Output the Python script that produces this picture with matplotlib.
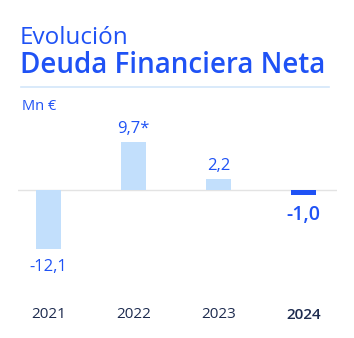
import matplotlib

matplotlib.use("Agg")
import matplotlib.pyplot as plt
from matplotlib.lines import Line2D

years = ["2021", "2022", "2023", "2024"]
values = [-12.1, 9.7, 2.2, -1.0]
value_labels = ["-12,1", "9,7*", "2,2", "-1,0"]

LIGHT = "#c2dffc"
BLUE = "#1f52f5"
NAVY = "#1d2b4f"
W, H = 354, 338

plt.rcParams["font.family"] = ["Open Sans", "DejaVu Sans"]

fig = plt.figure(figsize=(W / 100, H / 100), dpi=100)


def fx(px):
    return px / W


def fy(py):
    return 1 - py / H


# header
fig.text(fx(20), fy(44), "Evolución", color=BLUE, fontsize=17.5, ha="left", va="baseline")
fig.text(fx(20), fy(73), "Deuda Financiera Neta", color=BLUE, fontsize=20,
         fontweight="semibold", ha="left", va="baseline")
fig.add_artist(Line2D([fx(21), fx(329)], [fy(87.5), fy(87.5)], color="#d3e6fa", lw=1.2))
fig.text(fx(22), fy(110), "Mn €", color=BLUE, fontsize=10.5, ha="left", va="baseline")

# chart area: zero line at y=190 px, bars ~85 px apart
ax_left, ax_right, ax_top, ax_bot = 18, 337, 120, 300
ax = fig.add_axes([fx(ax_left), fy(ax_bot), (ax_right - ax_left) / W, (ax_bot - ax_top) / H])
ax.set_axis_off()
px_per_unit = 4.9
ax.set_ylim(-(ax_bot - 190) / px_per_unit, (190 - ax_top) / px_per_unit)
ax.set_xlim((ax_left - 48.5) / 85, (ax_right - 48.5) / 85)

x = list(range(len(years)))
colors = [LIGHT, LIGHT, LIGHT, BLUE]
ax.bar(x, values, width=0.295, color=colors, zorder=2)
ax.axhline(0, color="#e3e3e3", lw=1.0, zorder=1)

for i, (v, lab) in enumerate(zip(values, value_labels)):
    last = i == len(values) - 1
    if v >= 0:
        ax.annotate(lab, (i, v), xytext=(0, 4), textcoords="offset points",
                    ha="center", va="bottom", color=BLUE, fontsize=12)
    else:
        ax.annotate(lab, (i, v), xytext=(0, -7), textcoords="offset points",
                    ha="center", va="top", color=BLUE,
                    fontsize=14 if last else 12,
                    fontweight="semibold" if last else "normal")

for i, yr in enumerate(years):
    last = i == len(years) - 1
    fig.text(fx(48.5 + 85 * i), fy(315), yr, color=NAVY, fontsize=11,
             fontweight="semibold" if last else "normal", ha="center", va="center")

fig.savefig("out.png", dpi=100, facecolor="white")
